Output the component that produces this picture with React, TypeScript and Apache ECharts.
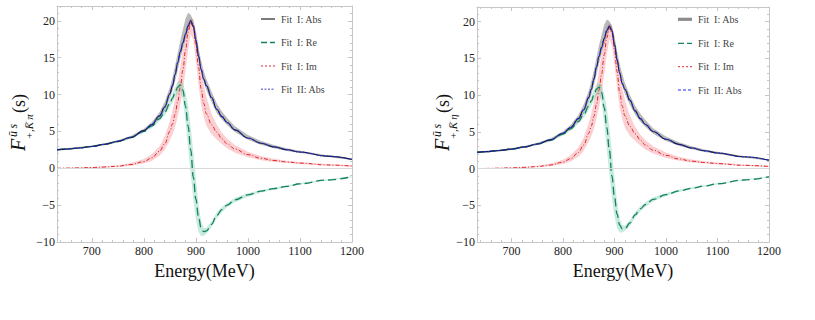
import React, { useEffect, useRef } from "react";
import * as echarts from "echarts";

// Energy grid (MeV) shared by every curve and band
const energy = [633, 650, 675, 700, 725, 750, 775, 800, 815, 830, 840, 850, 855, 860, 865, 870, 875, 880, 885, 890, 895, 900, 905, 910, 915, 920, 930, 940, 950, 960, 975, 1000, 1025, 1050, 1075, 1100, 1150, 1200];

// K pi form factor
const kpiAbs = [2.5, 2.6, 2.75, 2.95, 3.25, 3.65, 4.2, 5.1, 5.9, 7.1, 8.3, 10.1, 11.2, 12.7, 14.3, 15.8, 17.0, 18.2, 19.3, 20.0, 19.3, 17.3, 15.2, 13.4, 12.1, 11.2, 9.6, 8.0, 7.0, 6.2, 5.2, 4.1, 3.4, 2.9, 2.5, 2.2, 1.65, 1.2];
const kpiAbsHi = [2.65, 2.72, 2.87, 3.07, 3.38, 3.8, 4.38, 5.35, 6.25, 7.6, 9.0, 11.0, 12.3, 13.9, 15.6, 17.3, 18.8, 20.3, 21.1, 20.8, 20.0, 18.4, 16.4, 14.6, 13.2, 12.1, 10.4, 8.8, 7.7, 6.8, 5.7, 4.5, 3.7, 3.15, 2.7, 2.37, 1.78, 1.3];
const kpiAbsLo = [2.38, 2.48, 2.64, 2.84, 3.13, 3.52, 4.05, 4.9, 5.65, 6.75, 7.8, 9.5, 10.5, 11.8, 13.3, 14.8, 16.2, 17.5, 18.7, 19.6, 19.0, 17.0, 14.8, 13.0, 11.6, 10.6, 9.0, 7.5, 6.6, 5.85, 4.9, 3.85, 3.2, 2.72, 2.35, 2.06, 1.55, 1.12];
const kpiFit2Abs = [2.5, 2.6, 2.75, 2.95, 3.25, 3.65, 4.2, 5.1, 5.9, 7.1, 8.3, 10.1, 11.2, 12.7, 14.3, 15.8, 17.0, 18.2, 19.3, 20.0, 19.3, 17.3, 15.2, 13.4, 12.1, 11.2, 9.6, 8.0, 7.0, 6.2, 5.2, 4.1, 3.4, 2.9, 2.5, 2.2, 1.65, 1.2];
const kpiRe = [2.5, 2.6, 2.75, 2.95, 3.25, 3.63, 4.15, 5.0, 5.7, 6.7, 7.6, 8.8, 9.5, 10.3, 11.0, 11.3, 10.6, 8.4, 5.7, 2.5, -1.2, -4.2, -6.6, -8.1, -8.6, -8.5, -7.6, -6.4, -5.6, -5.0, -4.3, -3.6, -3.1, -2.75, -2.45, -2.1, -1.6, -1.15];
const kpiReHi = [2.6, 2.7, 2.85, 3.05, 3.35, 3.75, 4.3, 5.2, 5.95, 7.0, 8.0, 9.3, 10.1, 11.0, 11.7, 11.9, 11.6, 10.3, 8.4, 5.6, 2.2, -1.5, -4.8, -7.2, -8.1, -8.1, -7.2, -6.0, -5.25, -4.7, -4.0, -3.4, -2.95, -2.62, -2.34, -2.0, -1.53, -1.1];
const kpiReLo = [2.4, 2.5, 2.65, 2.85, 3.15, 3.5, 4.0, 4.8, 5.45, 6.4, 7.2, 8.3, 8.9, 9.6, 10.2, 10.5, 9.3, 6.3, 2.8, -0.8, -4.2, -6.9, -8.6, -9.2, -9.2, -8.9, -8.0, -6.8, -5.95, -5.3, -4.6, -3.85, -3.3, -2.9, -2.57, -2.22, -1.68, -1.22];
const kpiIm = [0.0, 0.02, 0.05, 0.1, 0.17, 0.28, 0.5, 0.9, 1.4, 2.3, 3.3, 5.0, 6.0, 7.3, 9.0, 11.0, 13.3, 16.0, 18.4, 19.8, 19.1, 16.7, 13.7, 10.8, 8.8, 7.4, 5.9, 4.9, 4.0, 3.3, 2.6, 1.85, 1.35, 1.05, 0.85, 0.7, 0.45, 0.3];
const kpiImHi = [0.02, 0.05, 0.1, 0.17, 0.27, 0.42, 0.7, 1.25, 1.9, 3.0, 4.3, 6.4, 7.8, 9.4, 11.5, 13.8, 16.0, 18.2, 19.8, 20.4, 20.2, 18.6, 16.2, 13.5, 11.3, 9.7, 7.4, 5.9, 4.8, 4.0, 3.15, 2.25, 1.65, 1.28, 1.03, 0.85, 0.58, 0.4];
const kpiImLo = [0.0, 0.0, 0.02, 0.05, 0.1, 0.18, 0.35, 0.65, 1.0, 1.7, 2.5, 3.8, 4.6, 5.6, 7.0, 8.6, 10.6, 13.2, 16.0, 18.2, 17.4, 14.6, 11.4, 8.6, 7.0, 5.8, 4.6, 3.9, 3.25, 2.7, 2.1, 1.5, 1.1, 0.85, 0.7, 0.57, 0.36, 0.22];

// K eta form factor
const ketaAbs = [2.2, 2.3, 2.45, 2.65, 2.95, 3.35, 3.9, 4.8, 5.6, 6.8, 8.0, 9.7, 10.8, 12.2, 13.8, 15.3, 16.5, 17.7, 18.8, 19.4, 18.8, 16.9, 14.8, 13.0, 11.6, 10.8, 9.3, 7.85, 6.8, 6.0, 5.05, 4.0, 3.3, 2.8, 2.42, 2.12, 1.6, 1.15];
const ketaAbsHi = [2.33, 2.42, 2.57, 2.77, 3.08, 3.5, 4.08, 5.05, 5.95, 7.3, 8.7, 10.6, 11.9, 13.4, 15.1, 16.8, 18.2, 19.6, 20.3, 20.1, 19.4, 17.9, 16.0, 14.3, 12.9, 11.7, 10.0, 8.55, 7.5, 6.6, 5.5, 4.35, 3.58, 3.04, 2.6, 2.28, 1.72, 1.24];
const ketaAbsLo = [2.08, 2.18, 2.33, 2.53, 2.83, 3.22, 3.75, 4.6, 5.35, 6.45, 7.5, 9.1, 10.1, 11.3, 12.8, 14.3, 15.7, 16.9, 18.1, 19.0, 18.4, 16.4, 14.4, 12.6, 11.3, 10.2, 8.65, 7.35, 6.4, 5.65, 4.75, 3.75, 3.1, 2.62, 2.27, 1.98, 1.5, 1.07];
const ketaFit2Abs = [2.2, 2.3, 2.45, 2.65, 2.95, 3.35, 3.9, 4.8, 5.6, 6.8, 8.0, 9.7, 10.8, 12.2, 13.8, 15.3, 16.5, 17.7, 18.8, 19.4, 18.8, 16.9, 14.8, 13.0, 11.6, 10.8, 9.3, 7.85, 6.8, 6.0, 5.05, 4.0, 3.3, 2.8, 2.42, 2.12, 1.6, 1.15];
const ketaRe = [2.2, 2.3, 2.45, 2.65, 2.95, 3.33, 3.85, 4.7, 5.4, 6.4, 7.3, 8.5, 9.2, 10.0, 10.8, 11.1, 10.4, 8.3, 5.6, 2.5, -1.0, -3.9, -6.2, -7.7, -8.2, -8.2, -7.4, -6.3, -5.5, -4.9, -4.2, -3.55, -3.05, -2.68, -2.37, -2.07, -1.56, -1.12];
const ketaReHi = [2.3, 2.4, 2.55, 2.75, 3.05, 3.45, 4.0, 4.9, 5.65, 6.7, 7.7, 9.0, 9.8, 10.7, 11.5, 11.7, 11.4, 10.2, 8.3, 5.6, 2.3, -1.3, -4.5, -6.8, -7.7, -7.8, -7.0, -5.9, -5.15, -4.6, -3.92, -3.33, -2.88, -2.54, -2.26, -1.96, -1.49, -1.07];
const ketaReLo = [2.1, 2.2, 2.35, 2.55, 2.85, 3.2, 3.7, 4.5, 5.15, 6.1, 6.9, 8.0, 8.6, 9.3, 9.9, 10.2, 9.1, 6.2, 2.7, -0.8, -4.0, -6.5, -8.1, -8.7, -8.7, -8.5, -7.8, -6.7, -5.85, -5.2, -4.5, -3.75, -3.2, -2.82, -2.49, -2.18, -1.64, -1.18];
const ketaIm = [0.0, 0.02, 0.05, 0.1, 0.17, 0.27, 0.48, 0.87, 1.35, 2.2, 3.2, 4.8, 5.8, 7.1, 8.7, 10.7, 12.9, 15.5, 17.8, 19.2, 18.5, 16.2, 13.2, 10.4, 8.5, 7.2, 5.75, 4.75, 3.9, 3.2, 2.5, 1.8, 1.3, 1.0, 0.82, 0.68, 0.44, 0.29];
const ketaImHi = [0.02, 0.05, 0.1, 0.16, 0.26, 0.4, 0.67, 1.2, 1.85, 2.9, 4.2, 6.2, 7.5, 9.1, 11.1, 13.4, 15.5, 17.6, 19.2, 19.8, 19.6, 18.0, 15.6, 13.1, 11.0, 9.4, 7.2, 5.7, 4.65, 3.9, 3.05, 2.2, 1.6, 1.24, 1.0, 0.83, 0.56, 0.38];
const ketaImLo = [0.0, 0.0, 0.02, 0.05, 0.1, 0.17, 0.33, 0.62, 0.95, 1.65, 2.4, 3.7, 4.45, 5.4, 6.8, 8.3, 10.3, 12.8, 15.5, 17.6, 16.8, 14.1, 11.0, 8.3, 6.8, 5.6, 4.45, 3.8, 3.15, 2.6, 2.05, 1.45, 1.07, 0.83, 0.68, 0.55, 0.35, 0.21];

const legendLabels = ["Fit\u00a0 I: Abs", "Fit\u00a0 I: Re", "Fit\u00a0 I: Im", "Fit\u00a0 II: Abs"];
const xTitle = "Energy(MeV)";

const SERIF = '"Liberation Serif", "Times New Roman", serif';
const FRAME = "#c6c6c6";
const GREEN = "#17805e";
const RED = "#e3242b";
const BLUE = "#1f2cff";

const yTick = (v: number) => (v < 0 ? "\u2212" + Math.abs(v) : String(v));
const xTick = (v: number) => String(Math.round(v));

function xAxesFor(gridIndex: number) {
  const base: any = {
    type: "value",
    gridIndex,
    min: 633,
    max: 1200,
    splitNumber: 6,
    splitLine: { show: false },
    axisLine: { show: true, onZero: false, lineStyle: { color: FRAME, width: 1 } },
    axisTick: { show: true, inside: true, length: 4, lineStyle: { color: FRAME } },
    minorTick: { show: true, splitNumber: 5, length: 2, lineStyle: { color: FRAME } },
  };
  return [
    {
      ...base,
      position: "bottom",
      name: xTitle,
      nameLocation: "middle",
      nameGap: 20,
      nameTextStyle: { fontFamily: SERIF, fontSize: 18, color: "#111" },
      axisLabel: { show: true, margin: 3, fontFamily: SERIF, fontSize: 12, color: "#222", showMinLabel: false, formatter: xTick },
    },
    { ...base, position: "top", axisLabel: { show: false } },
  ];
}

function yAxesFor(gridIndex: number) {
  const base: any = {
    type: "value",
    gridIndex,
    min: -10,
    max: 22,
    interval: 5,
    splitLine: { show: false },
    axisLine: { show: true, onZero: false, lineStyle: { color: FRAME, width: 1 } },
    axisTick: { show: true, inside: true, length: 4, lineStyle: { color: FRAME } },
    minorTick: { show: true, splitNumber: 5, length: 2, lineStyle: { color: FRAME } },
  };
  return [
    {
      ...base,
      position: "left",
      axisLabel: { show: true, margin: 2, fontFamily: SERIF, fontSize: 12, color: "#222", showMaxLabel: false, formatter: yTick },
    },
    { ...base, position: "right", axisLabel: { show: false } },
  ];
}

function band(lo: number[], hi: number[], fill: string, xi: number, yi: number) {
  return {
    type: "custom",
    xAxisIndex: xi,
    yAxisIndex: yi,
    z: 1,
    silent: true,
    clip: true,
    data: energy.map((e, i) => [e, lo[i], hi[i]]),
    encode: { x: 0, y: [1, 2] },
    renderItem: (params: any, api: any) => {
      if (params.dataIndex !== 0) return null;
      const upper = energy.map((e, i) => api.coord([e, hi[i]]));
      const lower = energy.map((e, i) => api.coord([e, lo[i]])).reverse();
      return { type: "polygon", shape: { points: upper.concat(lower) }, style: { fill } };
    },
  };
}

function curve(name: string, vals: number[], color: string, dash: any, width: number, xi: number, yi: number, z: number, extra: any = {}) {
  return {
    type: "line",
    name,
    xAxisIndex: xi,
    yAxisIndex: yi,
    z,
    silent: true,
    clip: true,
    symbol: "none",
    showSymbol: false,
    smooth: 0.4,
    smoothMonotone: "x",
    data: energy.map((e, i) => [e, vals[i]]),
    lineStyle: { color, width, type: dash },
    ...extra,
  };
}

function panelSeries(
  abs: number[], absLo: number[], absHi: number[], fit2: number[],
  re: number[], reLo: number[], reHi: number[],
  im: number[], imLo: number[], imHi: number[],
  xi: number, yi: number
) {
  return [
    band(imLo, imHi, "rgba(240,110,115,0.32)", xi, yi),
    band(reLo, reHi, "rgba(80,195,155,0.32)", xi, yi),
    band(absLo, absHi, "rgba(100,100,100,0.45)", xi, yi),
    curve(legendLabels[2], im, RED, [4, 2, 1, 2], 1, xi, yi, 3, {
      markLine: {
        silent: true,
        symbol: "none",
        label: { show: false },
        lineStyle: { color: "#d9d9d9", width: 1, type: "solid" },
        data: [{ yAxis: 0 }],
      },
    }),
    curve(legendLabels[1], re, GREEN, [8, 4], 1.3, xi, yi, 4),
    curve(legendLabels[0], abs, "#1a1a22", "solid", 1.1, xi, yi, 5),
    curve(legendLabels[3], fit2, BLUE, [1.5, 2], 1.2, xi, yi, 6),
  ];
}

function txt(text: string, x: number, y: number, font: string, fill = "#111", align = "left") {
  return {
    type: "text",
    x,
    y,
    silent: true,
    style: { text, font, fill, align, textAlign: align, verticalAlign: "middle", textVerticalAlign: "middle" },
  };
}

// Rotated y-axis title: F with superscript (ū s) and subscript (+,K̄ π / +,K̄ η), then (s)
function yTitle(x0: number, y0: number, sub: string) {
  return {
    type: "group",
    x: x0,
    y: y0,
    rotation: Math.PI / 2,
    silent: true,
    children: [
      txt("F", 0, -6.75, `italic 20px ${SERIF}`),
      txt("\u016B\u2009s", 14, -11.7, `italic 12px ${SERIF}`),
      txt(sub, 11.5, 4.3, `italic 11px ${SERIF}`),
      txt("(s)", 38, -6.1, `18px ${SERIF}`),
    ],
  };
}

function legendItem(x1: number, x2: number, y: number, stroke: string, width: number, dash: number[] | null, label: string, tx: number) {
  return [
    {
      type: "line",
      silent: true,
      shape: { x1, y1: y, x2, y2: y },
      style: { stroke, lineWidth: width, lineDash: dash || undefined },
    },
    txt(label, tx, y, `10px ${SERIF}`, "#444"),
  ];
}

export default function App() {
  const ref = useRef<HTMLDivElement>(null);

  useEffect(() => {
    if (!ref.current) return;
    const chart = echarts.init(ref.current, undefined, { renderer: "svg" });

    const leftRows = [19, 42.5, 66, 89.3];
    const rightRows = [19.3, 43.3, 66.7, 90];

    const option: any = {
      animation: false,
      backgroundColor: "#ffffff",
      grid: [
        { left: 57, right: 463, top: 6, bottom: 78 },
        { left: 477, right: 46, top: 7, bottom: 78 },
      ],
      xAxis: [...xAxesFor(0), ...xAxesFor(1)],
      yAxis: [...yAxesFor(0), ...yAxesFor(1)],
      series: [
        ...panelSeries(kpiAbs, kpiAbsLo, kpiAbsHi, kpiFit2Abs, kpiRe, kpiReLo, kpiReHi, kpiIm, kpiImLo, kpiImHi, 0, 0),
        ...panelSeries(ketaAbs, ketaAbsLo, ketaAbsHi, ketaFit2Abs, ketaRe, ketaReLo, ketaReHi, ketaIm, ketaImLo, ketaImHi, 2, 2),
      ],
      graphic: [
        yTitle(25, 151, "+,K\u0304\u2009\u03c0"),
        yTitle(449, 151, "+,K\u0304\u2009\u03b7"),
        ...legendItem(261, 275, leftRows[0], "#333333", 1.3, null, legendLabels[0], 281),
        ...legendItem(261, 275, leftRows[1], GREEN, 1.3, [6, 3], legendLabels[1], 281),
        ...legendItem(261, 275, leftRows[2], RED, 1, [2, 2], legendLabels[2], 281),
        ...legendItem(261, 275, leftRows[3], "#8080cc", 1.5, [2, 1.5], legendLabels[3], 281),
        ...legendItem(678, 692, rightRows[0], "#8c8c8c", 3.2, null, legendLabels[0], 698),
        ...legendItem(678, 692, rightRows[1], GREEN, 1.3, [6, 3], legendLabels[1], 698),
        ...legendItem(678, 692, rightRows[2], "#e0585c", 1.2, [2, 2], legendLabels[2], 698),
        ...legendItem(678, 692, rightRows[3], BLUE, 1.2, [3, 2], legendLabels[3], 698),
      ],
    };

    chart.setOption(option);
    return () => chart.dispose();
  }, []);

  return (
    <div
      ref={ref}
      style={{ position: "absolute", left: 0, top: 0, width: 815, height: 320, background: "#fff" }}
    />
  );
}
